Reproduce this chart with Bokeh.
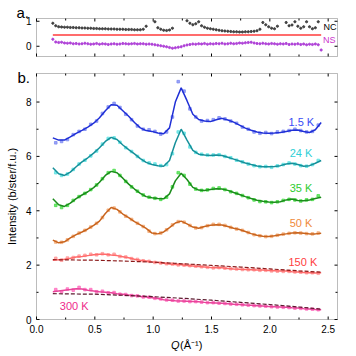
import math
from bokeh.plotting import figure
from bokeh.layouts import column
from bokeh.models import Range1d, BoxAnnotation
from bokeh.core.properties import value
from bokeh.embed import file_html
from bokeh.resources import INLINE

nan = float("nan")
FONT = "Liberation Sans"

# ---------------- data ----------------
Q = [0.14, 0.19, 0.24, 0.29, 0.34, 0.39, 0.44, 0.49, 0.54, 0.59, 0.64, 0.69, 0.74, 0.79, 0.84, 0.89,
     0.94, 0.99, 1.04, 1.09, 1.14, 1.19, 1.24, 1.29, 1.34, 1.39, 1.44, 1.49, 1.54, 1.59, 1.64, 1.69,
     1.74, 1.79, 1.84, 1.89, 1.94, 1.99, 2.04, 2.09, 2.14, 2.19, 2.24, 2.29, 2.34, 2.39, 2.44]
Qm = [round((Q[i] + Q[i + 1]) / 2, 3) for i in range(len(Q) - 1)]

fit_1p5K = [6.68, 6.60, 6.60, 6.72, 6.85, 6.96, 7.08, 7.22, 7.42, 7.68,
            7.90, 7.88, 7.68, 7.48, 7.25, 7.05, 6.95, 6.92, 6.86, 6.83,
            7.05, 8.00, 8.52, 8.05, 7.55, 7.36, 7.30, 7.28, 7.35, 7.40,
            7.34, 7.26, 7.15, 7.04, 6.96, 6.90, 6.86, 6.85, 6.86, 6.88,
            6.92, 6.96, 6.97, 6.92, 6.88, 6.98, 7.25]
fit_24K = [5.58, 5.36, 5.30, 5.42, 5.62, 5.80, 5.95, 6.12, 6.32, 6.55,
           6.70, 6.62, 6.42, 6.25, 6.09, 5.92, 5.78, 5.70, 5.66, 5.64,
           5.85, 6.50, 7.00, 6.60, 6.22, 6.08, 6.05, 6.03, 6.05, 6.03,
           5.97, 5.90, 5.83, 5.76, 5.70, 5.65, 5.62, 5.62, 5.63, 5.66,
           5.72, 5.75, 5.70, 5.64, 5.66, 5.75, 5.85]
fit_35K = [4.44, 4.22, 4.16, 4.28, 4.45, 4.58, 4.70, 4.85, 5.05, 5.30,
           5.45, 5.40, 5.20, 4.98, 4.80, 4.64, 4.52, 4.48, 4.45, 4.44,
           4.62, 5.10, 5.38, 5.15, 4.86, 4.76, 4.75, 4.78, 4.81, 4.80,
           4.75, 4.67, 4.60, 4.52, 4.45, 4.39, 4.35, 4.32, 4.31, 4.33,
           4.40, 4.43, 4.38, 4.37, 4.40, 4.45, 4.50]
fit_50K = [2.92, 2.82, 2.86, 3.00, 3.12, 3.22, 3.33, 3.46, 3.62, 3.90,
           4.12, 4.05, 3.88, 3.75, 3.60, 3.48, 3.35, 3.18, 3.15, 3.22,
           3.38, 3.55, 3.62, 3.52, 3.40, 3.36, 3.42, 3.47, 3.49, 3.48,
           3.42, 3.36, 3.31, 3.24, 3.16, 3.10, 3.06, 3.05, 3.08, 3.12,
           3.15, 3.18, 3.19, 3.17, 3.15, 3.15, 3.17]
line_150K = [2.18, 2.20, 2.22, 2.25, 2.30, 2.32, 2.35, 2.38, 2.40, 2.40,
             2.37, 2.35, 2.31, 2.27, 2.22, 2.18, 2.15, 2.12, 2.10, 2.07,
             2.04, 2.02, 2.01, 1.99, 1.97, 1.95, 1.93, 1.91, 1.90, 1.90,
             1.88, 1.86, 1.85, 1.84, 1.83, 1.82, 1.82, 1.80, 1.79, 1.78,
             1.78, 1.76, 1.75, 1.73, 1.72, 1.71, 1.72]
line_300K = [1.02, 1.05, 1.08, 1.10, 1.13, 1.12, 1.08, 1.05, 1.02, 1.00,
             0.98, 0.95, 0.93, 0.90, 0.88, 0.85, 0.83, 0.80, 0.77, 0.73,
             0.71, 0.69, 0.68, 0.67, 0.66, 0.65, 0.63, 0.62, 0.61, 0.60,
             0.58, 0.56, 0.55, 0.53, 0.52, 0.51, 0.50, 0.48, 0.47, 0.46,
             0.45, 0.43, 0.42, 0.40, 0.39, 0.37, 0.36]

pts_1p5K = [6.50, 6.55, 6.62, 6.80, 6.92, 7.00, 7.18, 7.30, 7.58, 7.82,
            7.95, 7.80, 7.55, 7.35, 7.12, 7.00, 6.98, 6.92, 6.82, 6.90,
            7.45, 8.75, 8.40, 7.75, 7.45, 7.30, 7.32, 7.35, 7.42, 7.38,
            7.30, 7.22, 7.08, 7.00, 6.90, 6.85, 6.88, 6.84, 6.90, 6.92,
            6.95, 7.00, 6.95, 6.90, 6.92, 7.15]
pts_24K = [5.40, 5.30, 5.35, 5.52, 5.72, 5.86, 6.02, 6.20, 6.45, 6.66,
           6.68, 6.52, 6.32, 6.18, 6.00, 5.85, 5.76, 5.72, 5.66, 5.70,
           6.10, 6.90, 6.85, 6.35, 6.15, 6.08, 6.05, 6.05, 6.06, 6.00,
           5.95, 5.86, 5.80, 5.72, 5.66, 5.62, 5.63, 5.60, 5.65, 5.70,
           5.76, 5.72, 5.66, 5.64, 5.70, 5.85]
pts_35K = [4.20, 4.12, 4.20, 4.38, 4.52, 4.64, 4.78, 4.95, 5.18, 5.40,
           5.48, 5.30, 5.08, 4.88, 4.72, 4.58, 4.50, 4.46, 4.42, 4.50,
           4.88, 5.40, 5.30, 4.98, 4.80, 4.75, 4.77, 4.82, 4.84, 4.78,
           4.70, 4.64, 4.56, 4.48, 4.40, 4.34, 4.33, 4.30, 4.33, 4.38,
           4.42, 4.40, 4.36, 4.40, 4.42, 4.55]
pts_50K = [2.85, 2.84, 2.93, 3.06, 3.18, 3.28, 3.40, 3.54, 3.75, 4.02,
           4.10, 3.96, 3.80, 3.68, 3.54, 3.42, 3.25, 3.16, 3.18, 3.30,
           3.48, 3.60, 3.58, 3.46, 3.37, 3.38, 3.45, 3.50, 3.50, 3.46,
           3.39, 3.33, 3.28, 3.20, 3.12, 3.08, 3.05, 3.06, 3.10, 3.14,
           3.17, 3.19, 3.18, 3.16, 3.15, 3.18]
pts_150K = [2.25, 2.18, 2.26, 2.28, 2.33, 2.36, 2.40, 2.38, 2.42, 2.38,
            2.40, 2.32, 2.30, 2.24, 2.21, 2.16, 2.14, 2.10, 2.08, 2.05,
            2.04, 2.01, 2.00, 1.98, 1.96, 1.94, 1.92, 1.90, 1.91, 1.89,
            1.87, 1.86, 1.84, 1.83, 1.83, 1.81, 1.81, 1.79, 1.78, 1.77,
            1.77, 1.75, 1.74, 1.72, 1.72, 1.70]
pts_300K = [1.10, 1.02, 1.12, 1.08, 1.18, 1.10, 1.10, 1.02, 1.04, 0.98,
            0.99, 0.93, 0.92, 0.88, 0.87, 0.83, 0.82, 0.78, 0.76, 0.72,
            0.71, 0.68, 0.68, 0.66, 0.66, 0.64, 0.62, 0.62, 0.60, 0.59,
            0.57, 0.56, 0.54, 0.53, 0.51, 0.50, 0.49, 0.47, 0.46, 0.45,
            0.44, 0.42, 0.41, 0.39, 0.38, 0.36]

Q_fit = [0.14, 0.5, 0.75, 1.0, 1.25, 1.5, 1.75, 2.0, 2.25, 2.44]
fit_150K = [2.20, 2.18, 2.15, 2.11, 2.05, 1.99, 1.93, 1.86, 1.79, 1.74]
fit_300K = [0.95, 0.93, 0.89, 0.84, 0.78, 0.71, 0.63, 0.55, 0.46, 0.38]

temps = ["1.5 K", "24 K", "35 K", "50 K", "150 K", "300 K"]
temp_label_x = [2.16, 2.17, 2.17, 2.17, 2.16, 0.20]
temp_label_y = [7.28, 6.11, 4.83, 3.54, 2.13, 0.48]

# panel a
NC = [0.92, 0.82, 0.78, 0.77, 0.76, 0.76, 0.75, 0.75, 0.74, 0.74,
      0.73, 0.73, 0.72, 0.72, 0.71, 0.71, 0.70, 0.70, 0.70, 0.69,
      0.69, 0.69, 0.68, 0.68, 0.68, 0.67, 0.67, 0.67, 0.66, 0.66,
      0.66, 0.68, 0.80, nan, nan, 0.98, 0.74, 0.68, 0.64, 0.63,
      0.65, 0.72, nan, nan, nan, nan, 1.02, 0.92, 0.86, 0.90,
      0.98, 0.82, 0.76, 0.72, 0.70, 0.68, 0.66, 0.64, 0.62, 0.61,
      0.60, 0.59, 0.58, 0.58, 0.57, 0.57, 0.58, 0.58, 0.59, 0.60,
      0.62, 0.68, 0.95, 0.86, 0.78, 0.72, 0.70, 0.80, nan, nan,
      0.95, 0.82, 0.85, 0.98, 0.80, 0.72, 0.78, 0.98, 0.78, 0.70,
      0.74, 0.98, nan]
NS = [0.28, 0.17, 0.15, 0.16, 0.13, 0.12, 0.13, 0.10, 0.11, 0.09,
      0.10, 0.12, 0.10, 0.08, 0.09, 0.11, 0.08, 0.10, 0.09, 0.07,
      0.09, 0.10, 0.08, 0.09, 0.11, 0.10, 0.09, 0.10, 0.11, 0.09,
      0.10, 0.10, 0.08, 0.09, 0.08, 0.06, 0.04, 0.02, 0.00, -0.02,
      -0.05, -0.08, -0.06, -0.04, -0.02, 0.02, 0.05, 0.07, 0.09, 0.08,
      0.10, 0.09, 0.11, 0.08, 0.10, 0.09, 0.11, 0.10, 0.12, 0.09,
      0.10, 0.12, 0.10, 0.11, 0.13, 0.12, 0.14, 0.15, 0.16, 0.13,
      0.11, 0.10, 0.12, 0.10, 0.09, 0.11, 0.10, 0.08, 0.10, 0.09,
      0.11, 0.07, 0.09, 0.08, 0.10, 0.07, 0.09, 0.06, 0.08, 0.07,
      0.09, 0.06, -0.15]
Qa = [round(0.14 + 0.025 * i, 3) for i in range(len(NS))]
ref_q = [0.14, 2.44]
ref_y = [0.45, 0.45]

x_ticks = [0.0, 0.5, 1.0, 1.5, 2.0, 2.5]
x_tick_labels = ["0.0", "0.5", "1.0", "1.5", "2.0", "2.5"]
x_minor = [0.25, 0.75, 1.25, 1.75, 2.25]
y_ticks = [0, 2, 4, 6, 8]
y_tick_labels = ["0", "2", "4", "6", "8"]
y_minor = [1, 3, 5, 7]
a_ticks = [0, 1]
a_tick_labels = ["0", "1"]

# ---------------- layout (pixels) ----------------
W = 352
BOX_L, BOX_R = 36, 337          # left/right edge of both plot boxes
XMIN, XMAX = 0.0, 2.58
PX = (BOX_R - BOX_L) / (XMAX - XMIN)
XR = Range1d(XMIN - BOX_L / PX, XMAX + (W - BOX_R) / PX)

HA, A_TOP, A_BOT = 62, 18, 56   # figure a height, box top/bottom (px from fig top)
YA0, YA1 = -0.41, 1.11
PYA = (A_BOT - A_TOP) / (YA1 - YA0)

HB, B_TOP, B_BOT = 292, 11, 257
YB0, YB1 = 0.0, 9.05
PYB = (B_BOT - B_TOP) / (YB1 - YB0)


def make_fig(h, top, bot, y0, y1, py):
    p = figure(width=W, height=h, x_range=Range1d(XR.start, XR.end),
               y_range=Range1d(y0 - (h - bot) / py, y1 + top / py),
               output_backend="svg", toolbar_location=None,
               x_axis_location=None, y_axis_location=None,
               min_border=0, min_border_left=0, min_border_right=0,
               min_border_top=0, min_border_bottom=0)
    p.grid.visible = False
    p.outline_line_color = None
    p.background_fill_color = "white"
    p.border_fill_color = "white"
    p.add_layout(BoxAnnotation(left=XMIN, right=XMAX, bottom=y0, top=y1, fill_alpha=0,
                               line_color="#222222", line_width=1))
    return p


def frame_ticks(p, y0, y1, py, yt, ym):
    L, l = 3, 2
    for xs, ln in ((x_ticks, L), (x_minor, l)):
        p.segment(x0=xs, y0=[y0] * len(xs), x1=xs, y1=[y0 + ln / py] * len(xs), line_color="black", line_width=1)
        p.segment(x0=xs, y0=[y1] * len(xs), x1=xs, y1=[y1 - ln / py] * len(xs), line_color="black", line_width=1)
    for ys, ln in ((yt, L), (ym, l)):
        if not ys:
            continue
        p.segment(x0=[XMIN] * len(ys), y0=ys, x1=[XMIN + ln / PX] * len(ys), y1=ys, line_color="black", line_width=1)
        p.segment(x0=[XMAX] * len(ys), y0=ys, x1=[XMAX - ln / PX] * len(ys), y1=ys, line_color="black", line_width=1)


def txt(p, x, y, t, size, color="black", align="left", baseline="middle", style="normal", angle=0):
    p.text(x=x, y=y, text=t, text_font=value(FONT), text_font_size=value(size), text_color=color,
           text_align=align, text_baseline=baseline, text_font_style=style, angle=angle)


# ---------------- panel a ----------------
pa = make_fig(HA, A_TOP, A_BOT, YA0, YA1, PYA)
frame_ticks(pa, YA0, YA1, PYA, a_ticks, [])
txt(pa, [XMIN - 5 / PX] * len(a_ticks), a_ticks, a_tick_labels, "10px", align="right")

pa.scatter(Qa, NC, marker="circle", size=2.2, color="#333333", alpha=0.9)
pa.scatter(Qa, NS, marker="circle", size=2.2, color="#a834d4", alpha=0.9)
pa.line(ref_q, ref_y, color="#ff3b3b", line_width=1.3)
txt(pa, [2.46], [0.79], ["NC"], "9px")
txt(pa, [2.455], [0.25], ["NS"], "9px", color="#cc33cc")
txt(pa, [XMIN - 20 / PX], [YA1 + 6 / PYA], ["a."], "15px", baseline="alphabetic")

# ---------------- panel b ----------------
pb = make_fig(HB, B_TOP, B_BOT, YB0, YB1, PYB)
frame_ticks(pb, YB0, YB1, PYB, y_ticks, y_minor)
txt(pb, x_ticks, [YB0 - 5 / PYB] * len(x_ticks), x_tick_labels, "10px", align="center", baseline="top")
txt(pb, [XMIN - 5 / PX] * len(y_ticks), y_ticks, y_tick_labels, "10px", align="right")
txt(pb, [XMIN - 25 / PX], [(YB0 + YB1) / 2], ["Intensity (b/ster/f.u.)"], "11px",
    align="center", angle=math.pi / 2)
txt(pb, [XMIN - 19 / PX], [YB1 - 4 / PYB], ["b."], "15px", baseline="alphabetic")
txt(pb, [(XMIN + XMAX) / 2 - 16 / PX], [YB0 - 25 / PYB], ["Q"], "11px", style="italic")
txt(pb, [(XMIN + XMAX) / 2 - 7 / PX], [YB0 - 25 / PYB], ["(Å⁻¹)"], "11px")

series = [
    (pts_1p5K, fit_1p5K, "#7f8cf2", "#1f2fd6", "#3a4cf5"),
    (pts_24K, fit_24K, "#5fe3e3", "#16909a", "#2fcfd6"),
    (pts_35K, fit_35K, "#4be04b", "#1b8c1b", "#2ecc2e"),
    (pts_50K, fit_50K, "#f5ad78", "#c8641e", "#f08a3a"),
    (pts_150K, line_150K, "#ff9a9a", "#ff6b6b", "#ff4040"),
    (pts_300K, line_300K, "#ff70c0", "#e8449a", "#ee2a8a"),
]
for (pts, ln, pc, lc, tc), t, tx, ty in zip(series, temps, temp_label_x, temp_label_y):
    pb.scatter(Qm, pts, marker="square", size=2.6, color=pc, alpha=0.8)
    pb.line(Q, ln, color=lc, line_width=1.5)
    txt(pb, [tx], [ty], [t], "11px", color=tc)

pb.line(Q_fit, fit_150K, color="#8b1a1a", line_width=1.2, line_dash="4 2")
pb.line(Q_fit, fit_300K, color="#5b1a2e", line_width=1.2, line_dash="4 2")

layout = column(pa, pb, spacing=0)
open("out.html", "w").write(file_html(layout, INLINE))
